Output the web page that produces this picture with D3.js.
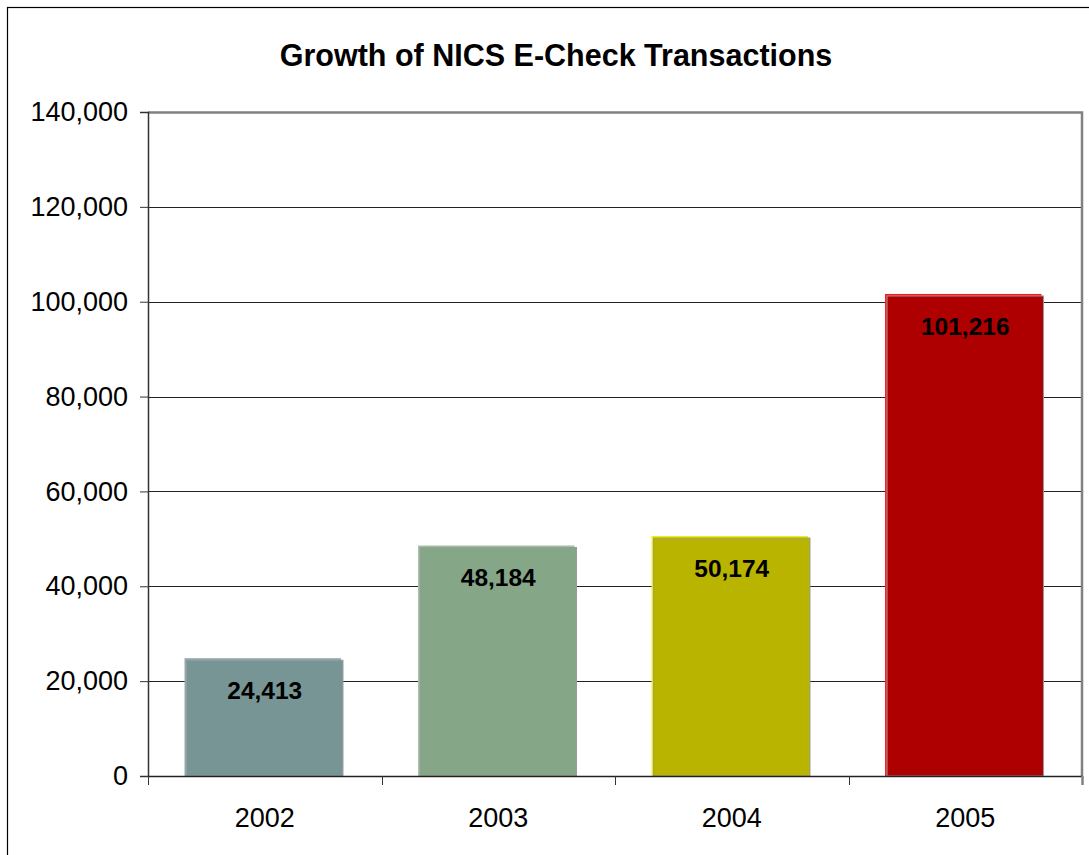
<!DOCTYPE html>
<html>
<head>
<meta charset="utf-8">
<script src="https://cdn.jsdelivr.net/npm/d3@7"></script>
<style>
html,body{margin:0;padding:0;background:#fff;}
svg{display:block;font-family:Arial,"Liberation Sans",sans-serif;}
</style>
</head>
<body>
<svg id="chart" width="1089" height="855"></svg>
<script>
const title = "Growth of NICS E-Check Transactions";
const categories = ["2002", "2003", "2004", "2005"];
const values = [24413, 48184, 50174, 101216];
const barColors = ["#789595", "#86A688", "#B8B400", "#AE0000"];
const edgeColors = ["#8FA8A8", "#A2C4A2", "#F0F000", "#FF1A1A"];
const yTicks = [0, 20000, 40000, 60000, 80000, 100000, 120000, 140000];

const svg = d3.select("#chart");
const W = 1089, H = 855;
const m = {left: 148, right: 1082, top: 112, bottom: 776};

// outer border
svg.append("rect").attr("x", 7.5).attr("y", 7.5).attr("width", W + 10).attr("height", H + 10)
  .attr("fill", "#fff").attr("stroke", "#000").attr("stroke-width", 1.2);

const x = d3.scaleBand().domain(categories).range([m.left, m.right]).paddingInner(0.33).paddingOuter(0.165);
const xb = d3.scaleBand().domain(categories).range([m.left, m.right]);
const y = d3.scaleLinear().domain([0, 140000]).range([m.bottom, m.top]);

// gridlines
svg.append("g").selectAll("line").data(yTicks.slice(1, -1)).join("line")
  .attr("x1", m.left).attr("x2", m.right)
  .attr("y1", d => Math.round(y(d)) + 0.5).attr("y2", d => Math.round(y(d)) + 0.5)
  .attr("stroke", "#222").attr("stroke-width", 1);

// plot border top & right
svg.append("path")
  .attr("d", `M${m.left},${m.top + 0.5}H${m.right}V${m.bottom}`)
  .attr("fill", "none").attr("stroke", "#808080").attr("stroke-width", 2.5);

// bars (shadow edge then body)
const bars = svg.append("g");
bars.selectAll("rect.edge").data(values).join("rect").attr("class", "edge")
  .attr("x", (d, i) => x(categories[i]) - 2)
  .attr("y", d => y(d) - 2)
  .attr("width", x.bandwidth())
  .attr("height", d => m.bottom - y(d) + 2)
  .attr("fill", (d, i) => edgeColors[i]);
bars.selectAll("rect.body").data(values).join("rect").attr("class", "body")
  .attr("x", (d, i) => x(categories[i]))
  .attr("y", d => y(d))
  .attr("width", x.bandwidth())
  .attr("height", d => m.bottom - y(d))
  .attr("fill", (d, i) => barColors[i])
  .attr("stroke", "#9a9a9a").attr("stroke-width", 1);

// y axis
const yAxis = d3.axisLeft(y).tickValues(yTicks).tickSize(8).tickPadding(12)
  .tickFormat(d3.format(","));
const gy = svg.append("g").attr("transform", `translate(${m.left},0)`).call(yAxis);
gy.select(".domain").attr("stroke", "#333").attr("stroke-width", 1.5);
gy.selectAll(".tick line").attr("stroke", "#333");
gy.selectAll(".tick text").attr("font-size", 27).attr("fill", "#000")
  .attr("font-family", "Arial, 'Liberation Sans', sans-serif");

// x axis
const xAxis = d3.axisBottom(xb).tickSize(0).tickPadding(32);
const gx = svg.append("g").attr("transform", `translate(0,${m.bottom})`).call(xAxis);
gx.select(".domain").attr("stroke", "#222").attr("stroke-width", 1.5);
gx.selectAll(".tick text").attr("font-size", 27).attr("fill", "#000")
  .attr("font-family", "Arial, 'Liberation Sans', sans-serif");
// category separators ticks
const bounds = categories.map(c => xb(c)).concat([m.right]);
svg.append("g").selectAll("line").data(bounds).join("line")
  .attr("x1", d => Math.round(d) + 0.5).attr("x2", d => Math.round(d) + 0.5)
  .attr("y1", m.bottom).attr("y2", m.bottom + 9)
  .attr("stroke", (d, i) => i === bounds.length - 1 ? "#808080" : "#333")
  .attr("stroke-width", (d, i) => i === bounds.length - 1 ? 2.5 : 1);

// value labels
svg.append("g").selectAll("text").data(values).join("text")
  .attr("x", (d, i) => x(categories[i]) + x.bandwidth() / 2)
  .attr("y", d => y(d) + 39)
  .attr("text-anchor", "middle")
  .attr("font-size", 24.5).attr("font-weight", "bold").attr("fill", "#000")
  .text(d => d3.format(",")(d));

// title
svg.append("text").attr("x", 556).attr("y", 66).attr("text-anchor", "middle")
  .attr("font-size", 30.5).attr("font-weight", "bold").attr("fill", "#000")
  .text(title);
</script>
</body>
</html>
